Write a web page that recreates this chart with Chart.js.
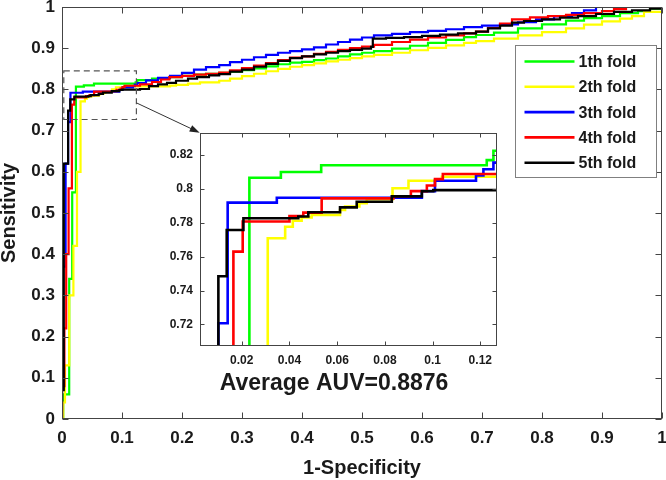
<!DOCTYPE html>
<html><head><meta charset="utf-8">
<script src="https://cdn.jsdelivr.net/npm/chart.js@4.4.0/dist/chart.umd.min.js"></script>
<style>
html,body{margin:0;padding:0;background:#fff;}
#wrap{position:relative;width:666px;height:480px;overflow:hidden;}
#main{position:absolute;left:0;top:0;}
#inset{position:absolute;left:140px;top:125px;}
</style></head><body>
<div id="wrap"><canvas id="main" width="666" height="480"></canvas><canvas id="inset" width="380" height="275"></canvas></div>
<script>
// ---------- DATA ----------
const foldLabels = ['1th fold', '2th fold', '3th fold', '4th fold', '5th fold'];
const foldColors = ['#00ff00', '#ffff00', '#0000ff', '#ff0000', '#000000'];

// ROC points [1-Specificity, Sensitivity]
const fold1 = [[0,0],[0.002,0.06],[0.012,0.34],[0.017,0.55],[0.0232,0.8066],[0.0364,0.810],[0.0533,0.814],[0.1227,0.817],[0.1255,0.8225],[0.15,0.826],[0.179,0.830],[0.20,0.833],[0.22,0.836],[0.24,0.838],[0.262,0.840],[0.28,0.843],[0.30,0.847],[0.32,0.851],[0.34,0.856],[0.36,0.861],[0.38,0.865],[0.40,0.867],[0.42,0.871],[0.44,0.875],[0.46,0.880],[0.48,0.885],[0.50,0.889],[0.52,0.893],[0.55,0.899],[0.58,0.906],[0.61,0.913],[0.64,0.920],[0.67,0.927],[0.69,0.932],[0.72,0.938],[0.76,0.948],[0.80,0.958],[0.84,0.967],[0.87,0.973],[0.90,0.978],[0.93,0.985],[0.96,0.990],[0.98,0.996],[1,1]];
const fold2 = [[0,0],[0.002,0.04],[0.005,0.13],[0.012,0.30],[0.019,0.42],[0.025,0.60],[0.0309,0.7709],[0.0382,0.7777],[0.0414,0.7812],[0.0451,0.7832],[0.0493,0.7846],[0.0612,0.7876],[0.0633,0.7896],[0.0693,0.7915],[0.0724,0.7939],[0.0832,0.8004],[0.0899,0.8048],[0.1039,0.8072],[0.18,0.809],[0.19,0.811],[0.21,0.814],[0.23,0.817],[0.262,0.821],[0.28,0.826],[0.30,0.832],[0.32,0.838],[0.34,0.844],[0.36,0.850],[0.38,0.855],[0.40,0.859],[0.42,0.863],[0.44,0.868],[0.46,0.872],[0.48,0.876],[0.50,0.880],[0.52,0.884],[0.55,0.889],[0.58,0.895],[0.61,0.901],[0.64,0.907],[0.67,0.913],[0.69,0.917],[0.72,0.923],[0.76,0.931],[0.80,0.939],[0.84,0.948],[0.87,0.957],[0.90,0.965],[0.93,0.972],[0.95,0.978],[0.97,0.988],[1,1]];
const fold3 = [[0,0],[0,0.08],[0.001,0.37],[0.006,0.62],[0.0102,0.7207],[0.0141,0.7919],[0.0347,0.7948],[0.0955,0.7987],[0.101,0.8048],[0.1182,0.8080],[0.1213,0.8116],[0.1255,0.8155],[0.14,0.822],[0.16,0.828],[0.18,0.833],[0.20,0.840],[0.22,0.848],[0.24,0.854],[0.262,0.859],[0.28,0.866],[0.30,0.872],[0.32,0.878],[0.34,0.884],[0.36,0.889],[0.38,0.893],[0.40,0.897],[0.42,0.902],[0.44,0.909],[0.46,0.915],[0.48,0.921],[0.50,0.926],[0.52,0.931],[0.55,0.935],[0.58,0.939],[0.61,0.942],[0.64,0.946],[0.67,0.951],[0.70,0.955],[0.73,0.958],[0.76,0.963],[0.79,0.970],[0.82,0.977],[0.85,0.985],[0.87,0.992],[0.89,1.0],[1,1]];
const fold4 = [[0,0],[0,0.08],[0.004,0.22],[0.007,0.40],[0.011,0.56],[0.0165,0.763],[0.0204,0.7808],[0.040,0.784],[0.0458,0.786],[0.0535,0.7944],[0.0836,0.7957],[0.0909,0.7987],[0.0976,0.802],[0.101,0.8058],[0.1043,0.8088],[0.13,0.812],[0.15,0.818],[0.165,0.824],[0.179,0.830],[0.20,0.833],[0.22,0.836],[0.24,0.838],[0.262,0.841],[0.28,0.846],[0.30,0.852],[0.32,0.858],[0.34,0.864],[0.36,0.871],[0.38,0.877],[0.40,0.880],[0.42,0.886],[0.44,0.891],[0.46,0.896],[0.48,0.900],[0.50,0.904],[0.52,0.908],[0.55,0.915],[0.58,0.921],[0.61,0.926],[0.64,0.931],[0.67,0.936],[0.69,0.940],[0.71,0.949],[0.73,0.960],[0.75,0.970],[0.78,0.975],[0.81,0.978],[0.84,0.981],[0.87,0.985],[0.90,0.990],[0.92,0.995],[0.94,1.0],[1,1]];
const fold5 = [[0,0],[0,0.07],[0.003,0.62],[0.0102,0.7485],[0.0137,0.7758],[0.0207,0.7827],[0.0437,0.7837],[0.0479,0.7862],[0.0612,0.7891],[0.0682,0.7924],[0.0829,0.7956],[0.0955,0.7986],[0.1003,0.7993],[0.13,0.801],[0.145,0.808],[0.16,0.812],[0.175,0.816],[0.19,0.821],[0.21,0.826],[0.225,0.830],[0.245,0.834],[0.262,0.837],[0.28,0.843],[0.30,0.848],[0.32,0.855],[0.34,0.862],[0.36,0.869],[0.38,0.876],[0.40,0.880],[0.42,0.885],[0.44,0.889],[0.46,0.893],[0.48,0.896],[0.50,0.899],[0.515,0.903],[0.518,0.923],[0.54,0.925],[0.57,0.927],[0.60,0.930],[0.63,0.933],[0.66,0.936],[0.69,0.940],[0.71,0.948],[0.73,0.955],[0.75,0.962],[0.77,0.966],[0.80,0.970],[0.83,0.974],[0.86,0.978],[0.89,0.983],[0.92,0.988],[0.95,0.992],[0.98,0.996],[1,1]];
const folds = [fold1, fold2, fold3, fold4, fold5];

const xTicks = [0,0.1,0.2,0.3,0.4,0.5,0.6,0.7,0.8,0.9,1];
const xTickLabels = ['0','0.1','0.2','0.3','0.4','0.5','0.6','0.7','0.8','0.9','1'];
const yTicks = [0,0.1,0.2,0.3,0.4,0.5,0.6,0.7,0.8,0.9,1];
const yTickLabels = ['0','0.1','0.2','0.3','0.4','0.5','0.6','0.7','0.8','0.9','1'];
const insetXTicks = [0.02,0.04,0.06,0.08,0.1,0.12];
const insetXTickLabels = ['0.02','0.04','0.06','0.08','0.1','0.12'];
const insetYTicks = [0.72,0.74,0.76,0.78,0.8,0.82];
const insetYTickLabels = ['0.72','0.74','0.76','0.78','0.8','0.82'];
const insetRangeX = [0.0025, 0.127];
const insetRangeY = [0.7073, 0.833];
const zoomBox = [0.003, 0.124, 0.727, 0.845]; // x0, x1, y0, y1
const aucText = 'Average AUV=0.8876';
const xTitle = '1-Specificity';
const yTitle = 'Sensitivity';

// ---------- DRAWING ----------
const FONT = '"Liberation Sans", Arial, Helvetica, sans-serif';
const frameColor = '#444444';
const textColor = '#1a1a1a';

function makeDatasets(width) {
  return folds.map((f, i) => ({
    label: foldLabels[i],
    data: f.map(p => ({x: p[0], y: p[1]})),
    borderColor: foldColors[i],
    backgroundColor: foldColors[i],
    borderWidth: width,
    pointRadius: 0,
    stepped: 'before',
    fill: false,
    order: 5 - i
  }));
}

function drawFrame(chart, tickLen) {
  const {ctx, chartArea: a, scales: {x, y}} = chart;
  ctx.save();
  ctx.strokeStyle = frameColor;
  ctx.lineWidth = 1;
  const L = Math.round(a.left) + 0.5, T = Math.round(a.top) + 0.5;
  const R = Math.round(a.right) - 0.5, B = Math.round(a.bottom) - 0.5;
  ctx.strokeRect(L, T, R - L, B - T);
  ctx.beginPath();
  x.ticks.forEach(t => {
    const p = Math.round(x.getPixelForValue(t.value)) + 0.5;
    ctx.moveTo(p, B); ctx.lineTo(p, B - tickLen);
    ctx.moveTo(p, T); ctx.lineTo(p, T + tickLen);
  });
  y.ticks.forEach(t => {
    const p = Math.round(y.getPixelForValue(t.value)) + 0.5;
    ctx.moveTo(L, p); ctx.lineTo(L + tickLen, p);
    ctx.moveTo(R, p); ctx.lineTo(R - tickLen, p);
  });
  ctx.stroke();
  ctx.restore();
}

const mainDecor = {
  id: 'mainDecor',
  afterDatasetsDraw(chart) {
    const {ctx, chartArea: a, scales: {x, y}} = chart;
    drawFrame(chart, 6);
    ctx.save();
    // dashed zoom box
    ctx.strokeStyle = '#555';
    ctx.lineWidth = 1.2;
    ctx.setLineDash([6, 4]);
    const bx0 = x.getPixelForValue(zoomBox[0]), bx1 = x.getPixelForValue(zoomBox[1]);
    const by0 = y.getPixelForValue(zoomBox[2]), by1 = y.getPixelForValue(zoomBox[3]);
    ctx.strokeRect(bx0, by1, bx1 - bx0, by0 - by1);
    ctx.setLineDash([]);
    // arrow to inset
    const sx = x.getPixelForValue(0.1245), sy = y.getPixelForValue(0.767);
    const ex = x.getPixelForValue(0.2295), ey = y.getPixelForValue(0.695);
    const ang = Math.atan2(ey - sy, ex - sx);
    ctx.strokeStyle = '#333';
    ctx.lineWidth = 1;
    ctx.beginPath(); ctx.moveTo(sx, sy); ctx.lineTo(ex - 6 * Math.cos(ang), ey - 6 * Math.sin(ang)); ctx.stroke();
    ctx.fillStyle = '#222';
    ctx.beginPath();
    ctx.moveTo(ex, ey);
    ctx.lineTo(ex - 10 * Math.cos(ang) + 3.5 * Math.sin(ang), ey - 10 * Math.sin(ang) - 3.5 * Math.cos(ang));
    ctx.lineTo(ex - 10 * Math.cos(ang) - 3.5 * Math.sin(ang), ey - 10 * Math.sin(ang) + 3.5 * Math.cos(ang));
    ctx.closePath(); ctx.fill();
    // legend
    const lw = 141, lh = 132;
    const lx = Math.round(a.right - 6 - lw) + 0.5, ly = Math.round(a.top + 38) + 0.5;
    ctx.fillStyle = '#fff';
    ctx.fillRect(lx, ly, lw, lh);
    ctx.strokeStyle = '#808080';
    ctx.lineWidth = 1;
    ctx.strokeRect(lx, ly, lw, lh);
    ctx.font = 'bold 16px ' + FONT;
    ctx.textBaseline = 'middle';
    ctx.textAlign = 'left';
    chart.data.datasets.forEach((ds, i) => {
      const ry = ly + 16 + i * 25.3;
      ctx.strokeStyle = ds.borderColor;
      ctx.lineWidth = 2.6;
      ctx.beginPath(); ctx.moveTo(lx + 9, ry); ctx.lineTo(lx + 59, ry); ctx.stroke();
      ctx.fillStyle = textColor;
      ctx.fillText(ds.label, lx + 63, ry + 1);
    });
    ctx.restore();
  }
};

const insetDecor = {
  id: 'insetDecor',
  beforeDatasetsDraw(chart) {
    const {ctx, chartArea: a} = chart;
    ctx.save(); ctx.fillStyle = '#fff';
    ctx.fillRect(a.left, a.top, a.right - a.left, a.bottom - a.top);
    ctx.restore();
  },
  afterDatasetsDraw(chart) {
    const {ctx, chartArea: a} = chart;
    drawFrame(chart, 4);
    ctx.save();
    ctx.font = 'bold 23px ' + FONT;
    ctx.fillStyle = textColor;
    ctx.textAlign = 'center';
    ctx.textBaseline = 'alphabetic';
    ctx.fillText(aucText, (a.left + a.right) / 2 - 14.5, a.bottom + 44);
    ctx.restore();
  }
};

function tickFont(size) { return {family: FONT, size: size, weight: 'bold'}; }

new Chart(document.getElementById('main'), {
  type: 'line',
  data: {datasets: makeDatasets(2.2)},
  options: {
    responsive: false, devicePixelRatio: 1, animation: false,
    layout: {padding: {left: 0, top: 7, right: 4, bottom: 0}},
    plugins: {legend: {display: false}, tooltip: {enabled: false}, title: {display: false}},
    scales: {
      x: {
        type: 'linear', min: 0, max: 1,
        afterBuildTicks: s => { s.ticks = xTicks.map(v => ({value: v})); },
        afterFit: s => { s.height = 61; s.paddingLeft = 0; s.paddingRight = 0; },
        ticks: {callback: (v, i) => xTickLabels[i], font: tickFont(17), color: textColor, padding: 9, maxRotation: 0, autoSkip: false},
        grid: {display: false, drawTicks: false},
        border: {display: false},
        title: {display: true, text: xTitle, font: {family: FONT, size: 20, weight: 'bold', lineHeight: 1}, color: textColor, padding: {top: 0, bottom: 2}}
      },
      y: {
        type: 'linear', min: 0, max: 1,
        afterBuildTicks: s => { s.ticks = yTicks.map(v => ({value: v})); },
        afterFit: s => { s.width = 62; s.paddingTop = 0; s.paddingBottom = 0; },
        ticks: {callback: (v, i) => yTickLabels[i], font: tickFont(17), color: textColor, padding: 7, autoSkip: false},
        grid: {display: false, drawTicks: false},
        border: {display: false},
        title: {display: true, text: yTitle, font: {family: FONT, size: 20, weight: 'bold', lineHeight: 0.95}, color: textColor, padding: {top: 0, bottom: 0}}
      }
    }
  },
  plugins: [mainDecor]
});

new Chart(document.getElementById('inset'), {
  type: 'line',
  data: {datasets: makeDatasets(2.6)},
  options: {
    responsive: false, devicePixelRatio: 1, animation: false,
    layout: {padding: {left: 0, top: 8, right: 23, bottom: 0}},
    plugins: {legend: {display: false}, tooltip: {enabled: false}, title: {display: false}},
    scales: {
      x: {
        type: 'linear', min: insetRangeX[0], max: insetRangeX[1],
        afterBuildTicks: s => { s.ticks = insetXTicks.map(v => ({value: v})); },
        afterFit: s => { s.height = 54; s.paddingLeft = 0; s.paddingRight = 0; },
        ticks: {callback: (v, i) => insetXTickLabels[i], font: tickFont(12), color: textColor, padding: 7, maxRotation: 0, autoSkip: false},
        grid: {display: false, drawTicks: false},
        border: {display: false}
      },
      y: {
        type: 'linear', min: insetRangeY[0], max: insetRangeY[1],
        afterBuildTicks: s => { s.ticks = insetYTicks.map(v => ({value: v})); },
        afterFit: s => { s.width = 60; s.paddingTop = 0; s.paddingBottom = 0; },
        ticks: {callback: (v, i) => insetYTickLabels[i], font: tickFont(12), color: textColor, padding: 7, autoSkip: false},
        grid: {display: false, drawTicks: false},
        border: {display: false}
      }
    }
  },
  plugins: [insetDecor]
});
</script>
</body></html>
